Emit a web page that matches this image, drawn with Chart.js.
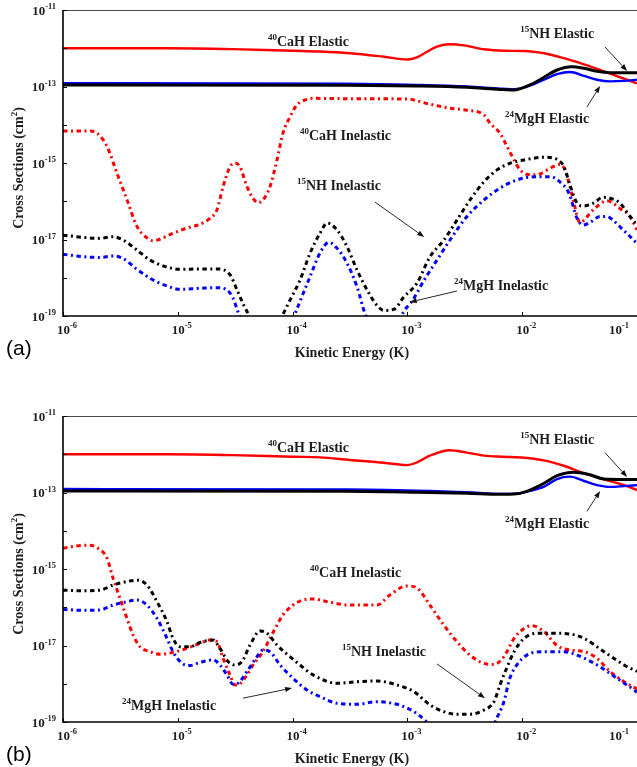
<!DOCTYPE html>
<html><head><meta charset="utf-8">
<script src="https://cdn.jsdelivr.net/npm/chart.js@4.4.1/dist/chart.umd.min.js"></script>
<style>
html,body{margin:0;padding:0;background:#fff;width:637px;height:767px;overflow:hidden;}
.panel{position:absolute;left:0;width:637px;}
</style></head><body>
<div class="panel" style="top:0;height:385px"><canvas id="ca" width="637" height="385"></canvas></div>
<div class="panel" style="top:406px;height:361px"><canvas id="cb" width="637" height="361"></canvas></div>
<script>
// ---------- tick labels (decade exponents) ----------
const xTickExp = [-6, -5, -4, -3, -2, -1];
const yTickExp = [-19, -18, -17, -16, -15, -14, -13, -12, -11];
const yLabelExp = [-11, -13, -15, -17, -19];

// ---------- panel (a) ----------
const a_caEl_E = [1e-6, 8e-6, 3e-5, 1e-4, 1.73e-4, 3.16e-4, 6.25e-4, 9.9e-4, 1.21e-3, 1.48e-3, 1.81e-3, 2.35e-3, 3.11e-3, 4.65e-3, 6.93e-3, 1.04e-2, 1.55e-2, 2.31e-2, 3.45e-2, 5.16e-2, 7.71e-2, 0.1];
const a_caEl_S = [1.0e-12, 1.0e-12, 9.5e-13, 8.6e-13, 8.2e-13, 7.4e-13, 6.0e-13, 5.1e-13, 5.8e-13, 8.1e-13, 1.1e-12, 1.27e-12, 1.19e-12, 9.4e-13, 8.6e-13, 8.5e-13, 7.4e-13, 5.5e-13, 3.8e-13, 2.5e-13, 1.6e-13, 1.2e-13];

const a_nhEl_E = [1e-6, 3e-4, 1.2e-3, 3.3e-3, 6.4e-3, 8.5e-3, 1.17e-2, 1.55e-2, 2.01e-2, 2.7e-2, 3.45e-2, 4.49e-2, 5.82e-2, 0.1];
const a_nhEl_S = [1.1e-13, 1.08e-13, 1.03e-13, 9.5e-14, 8.4e-14, 8.1e-14, 1.1e-13, 1.74e-13, 2.7e-13, 3.3e-13, 3.0e-13, 2.5e-13, 2.3e-13, 2.3e-13];

const a_mgEl_E = [1e-6, 3e-4, 1.2e-3, 3.3e-3, 6.4e-3, 8.5e-3, 1.17e-2, 1.55e-2, 2.01e-2, 2.61e-2, 3.45e-2, 4.49e-2, 5.82e-2, 7.7e-2, 0.1];
const a_mgEl_S = [1.22e-13, 1.18e-13, 1.1e-13, 1.0e-13, 8.8e-14, 8.5e-14, 1.05e-13, 1.5e-13, 2.1e-13, 2.4e-13, 1.9e-13, 1.5e-13, 1.36e-13, 1.4e-13, 1.5e-13];

const a_caIn_E = [1e-6, 1.72e-6, 1.98e-6, 2.42e-6, 2.95e-6, 3.61e-6, 4.41e-6, 5.39e-6, 6.08e-6, 9.08e-6, 1.2e-5, 1.56e-5, 1.91e-5, 2.19e-5, 2.48e-5, 2.85e-5, 3.15e-5, 3.48e-5, 4.01e-5, 4.52e-5, 5.0e-5, 5.52e-5, 6.35e-5, 7.31e-5, 8.24e-5, 9.49e-5, 1.09e-4, 1.33e-4, 1.51e-4, 3.16e-4, 9.9e-4, 1.48e-3, 2.35e-3, 3.3e-3, 4.65e-3, 5.25e-3, 6.4e-3, 7.38e-3, 8.5e-3, 9.57e-3, 1.17e-2, 1.43e-2, 1.75e-2, 2.13e-2, 2.36e-2, 2.61e-2, 2.85e-2, 3.18e-2, 4.14e-2, 5.48e-2, 7.1e-2, 8.69e-2, 0.1];
const a_caIn_S = [6.9e-15, 6.9e-15, 6.0e-15, 2.7e-15, 5.4e-16, 1.1e-16, 2.2e-17, 1.1e-17, 9.3e-18, 1.46e-17, 2.0e-17, 2.5e-17, 3.6e-17, 5.9e-17, 2.4e-16, 8.0e-16, 1.0e-15, 8.0e-16, 2.4e-16, 1.2e-16, 9.2e-17, 1.08e-16, 2.4e-16, 1.2e-15, 6.0e-15, 1.6e-14, 3.3e-14, 4.6e-14, 4.9e-14, 4.8e-14, 4.7e-14, 3.6e-14, 2.7e-14, 2.4e-14, 1.8e-14, 1.09e-14, 6.0e-15, 2.7e-15, 1.2e-15, 6.6e-16, 4.9e-16, 5.2e-16, 7.3e-16, 9.2e-16, 6.6e-16, 2.4e-16, 8e-17, 2.8e-17, 5.9e-17, 1.03e-16, 6.5e-17, 4.0e-17, 1.8e-17];

const a_nhIn_E = [1e-6, 1.49e-6, 2.1e-6, 2.73e-6, 3.33e-6, 4.41e-6, 5.73e-6, 8.05e-6, 1.04e-5, 1.56e-5, 2.19e-5, 2.85e-5, 3.28e-5, 3.7e-5, 4.17e-5, 5.4e-5, 6.35e-5, 8.09e-5, 9.49e-5, 1.16e-4, 1.42e-4, 1.73e-4, 2.0e-4, 2.44e-4, 2.98e-4, 3.64e-4, 4.45e-4, 5.43e-4, 6.25e-4, 7.64e-4, 9.34e-4, 1.21e-3, 1.57e-3, 2.08e-3, 2.7e-3, 3.51e-3, 4.65e-3, 6.03e-3, 7.8e-3, 1.04e-2, 1.55e-2, 1.89e-2, 2.31e-2, 2.61e-2, 3.0e-2, 3.39e-2, 4.14e-2, 5.06e-2, 5.82e-2, 7.1e-2, 8.69e-2, 0.1];
const a_nhIn_S = [1.3e-17, 1.14e-17, 1.07e-17, 1.18e-17, 9.7e-18, 5.3e-18, 2.9e-18, 1.9e-18, 1.66e-18, 1.7e-18, 1.7e-18, 1.2e-18, 4.8e-19, 2.1e-19, 1.0e-19, 1e-20, 3e-20, 1.0e-19, 2.6e-19, 8.7e-19, 4.4e-18, 1.45e-17, 2.7e-17, 1.77e-17, 6.5e-18, 1.59e-18, 4.8e-19, 1.9e-19, 1.4e-19, 1.5e-19, 3.2e-19, 7.2e-19, 3.5e-18, 9.7e-18, 3.2e-17, 1.08e-16, 3.24e-16, 6.6e-16, 9.8e-16, 1.2e-15, 1.41e-15, 1.33e-15, 8.0e-16, 2.6e-16, 9e-17, 7.5e-17, 8.8e-17, 1.27e-16, 1.2e-16, 9e-17, 4e-17, 2.4e-17];

const a_mgIn_E = [1e-6, 1.49e-6, 2.1e-6, 2.73e-6, 3.33e-6, 4.41e-6, 5.73e-6, 8.05e-6, 1.04e-5, 1.56e-5, 2.19e-5, 2.68e-5, 3.03e-5, 3.34e-5, 3.55e-5, 4.5e-5, 7e-5, 1.01e-4, 1.16e-4, 1.42e-4, 1.73e-4, 2.07e-4, 2.44e-4, 2.98e-4, 3.64e-4, 4.27e-4, 4.5e-4, 6e-4, 8.63e-4, 1.14e-3, 1.4e-3, 1.81e-3, 2.35e-3, 3.3e-3, 4.65e-3, 6.4e-3, 8.98e-3, 1.35e-2, 1.75e-2, 2.13e-2, 2.56e-2, 3.0e-2, 3.39e-2, 3.9e-2, 4.76e-2, 5.48e-2, 6.18e-2, 7.55e-2, 8.69e-2, 0.1];
const a_mgIn_S = [4.1e-18, 3.55e-18, 3.4e-18, 3.7e-18, 3.2e-18, 1.66e-18, 9.7e-19, 6.1e-19, 5.0e-19, 5.3e-19, 5.5e-19, 4.8e-19, 2.9e-19, 1.3e-19, 8e-20, 1e-21, 1e-21, 8e-20, 2.4e-19, 1.07e-18, 4.4e-18, 8.4e-18, 5.9e-18, 2.4e-18, 5.8e-19, 1.15e-19, 8e-20, 1e-21, 8e-20, 2.9e-19, 8.7e-19, 2.9e-18, 9.7e-18, 4.0e-17, 1.08e-16, 2.2e-16, 3.6e-16, 4.4e-16, 4.4e-16, 3.2e-16, 1.6e-16, 3.6e-17, 2.4e-17, 2.8e-17, 4.0e-17, 4.0e-17, 3.2e-17, 1.8e-17, 1.2e-17, 7.9e-18];

// ---------- panel (b) ----------
const b_caEl_E = [1e-6, 8e-6, 3e-5, 1e-4, 1.73e-4, 3.16e-4, 6.25e-4, 9.9e-4, 1.21e-3, 1.57e-3, 2.35e-3, 3.3e-3, 4.65e-3, 6.93e-3, 1.04e-2, 1.55e-2, 2.31e-2, 3.45e-2, 5.16e-2, 7.71e-2, 0.1];
const b_caEl_S = [1.0e-12, 1.0e-12, 9.5e-13, 8.6e-13, 8.3e-13, 7.1e-13, 6.0e-13, 5.2e-13, 6.1e-13, 9.2e-13, 1.27e-12, 1.1e-12, 9.2e-13, 8.6e-13, 8.1e-13, 6.9e-13, 5.0e-13, 3.2e-13, 2.2e-13, 1.56e-13, 1.16e-13];

const b_nhEl_E = [1e-6, 3e-4, 1.2e-3, 3.3e-3, 6.4e-3, 8.98e-3, 1.17e-2, 1.55e-2, 2.01e-2, 2.8e-2, 3.9e-2, 5.16e-2, 7e-2, 0.1];
const b_nhEl_S = [1.1e-13, 1.08e-13, 1.02e-13, 9.6e-14, 9.0e-14, 9.3e-14, 1.16e-13, 1.74e-13, 2.75e-13, 3.4e-13, 2.9e-13, 2.25e-13, 2.2e-13, 2.2e-13];

const b_mgEl_E = [1e-6, 3e-4, 1.2e-3, 3.3e-3, 6.4e-3, 8.98e-3, 1.17e-2, 1.55e-2, 2.01e-2, 2.61e-2, 3.45e-2, 4.49e-2, 5.82e-2, 7.71e-2, 0.1];
const b_mgEl_S = [1.23e-13, 1.2e-13, 1.12e-13, 1.02e-13, 9.2e-14, 9.3e-14, 1.1e-13, 1.42e-13, 2.25e-13, 2.6e-13, 2.0e-13, 1.56e-13, 1.4e-13, 1.47e-13, 1.56e-13];

const b_caIn_E = [1e-6, 1.32e-6, 1.65e-6, 1.98e-6, 2.42e-6, 2.73e-6, 3.14e-6, 3.61e-6, 4.07e-6, 4.69e-6, 5.73e-6, 7.0e-6, 9.08e-6, 1.2e-5, 1.56e-5, 1.91e-5, 2.19e-5, 2.48e-5, 2.85e-5, 3.15e-5, 3.48e-5, 4.01e-5, 4.52e-5, 5.52e-5, 6.35e-5, 7.31e-5, 8.24e-5, 1.01e-4, 1.23e-4, 1.51e-4, 2.0e-4, 3.16e-4, 5.43e-4, 7.05e-4, 9.9e-4, 1.21e-3, 1.57e-3, 2.08e-3, 2.7e-3, 3.51e-3, 4.65e-3, 5.68e-3, 6.93e-3, 8.5e-3, 1.04e-2, 1.22e-2, 1.55e-2, 2.01e-2, 2.61e-2, 3.45e-2, 4.49e-2, 5.82e-2, 7.71e-2, 0.1];
const b_caIn_S = [3.5e-15, 4.0e-15, 4.2e-15, 3.6e-15, 1.9e-15, 5.7e-16, 1.7e-16, 5.1e-17, 1.9e-17, 9.3e-18, 6.9e-18, 5.9e-18, 6.6e-18, 8.4e-18, 1.14e-17, 1.39e-17, 1.26e-17, 4.6e-18, 1.7e-18, 9.3e-19, 1.0e-18, 1.7e-18, 3.1e-18, 6.9e-18, 1.54e-17, 3.4e-17, 6.3e-17, 1.14e-16, 1.55e-16, 1.64e-16, 1.4e-16, 1.14e-16, 1.14e-16, 2.1e-16, 3.6e-16, 3.2e-16, 1.14e-16, 3.4e-17, 1.26e-17, 5.6e-18, 3.4e-18, 3.2e-18, 5.1e-18, 1.54e-17, 2.8e-17, 3.3e-17, 2.3e-17, 1.0e-17, 7.6e-18, 6.9e-18, 4.6e-18, 2.1e-18, 1.13e-18, 7.3e-19];

const b_nhIn_E = [1e-6, 1.49e-6, 2.1e-6, 2.73e-6, 3.61e-6, 4.41e-6, 5.39e-6, 6.59e-6, 8.05e-6, 9.08e-6, 1.04e-5, 1.28e-5, 1.56e-5, 2.03e-5, 2.33e-5, 2.74e-5, 3.15e-5, 3.62e-5, 4.26e-5, 5.2e-5, 5.98e-5, 7.31e-5, 9.49e-5, 1.16e-4, 1.51e-4, 2.44e-4, 3.64e-4, 5.43e-4, 8.11e-4, 1.14e-3, 1.57e-3, 2.08e-3, 2.7e-3, 3.51e-3, 4.65e-3, 5.68e-3, 6.4e-3, 7.38e-3, 8.5e-3, 1.04e-2, 1.35e-2, 1.75e-2, 2.61e-2, 3.45e-2, 5.16e-2, 7.71e-2, 0.1];
const b_nhIn_S = [2.8e-16, 2.7e-16, 2.8e-16, 3.8e-16, 4.7e-16, 5.1e-16, 3.8e-16, 1.4e-16, 4.2e-17, 1.54e-17, 9.3e-18, 9.3e-18, 1.2e-17, 1.39e-17, 8.4e-18, 3.8e-18, 3.1e-18, 3.8e-18, 1.03e-17, 2.4e-17, 2.1e-17, 1.03e-17, 5.1e-18, 3.1e-18, 1.7e-18, 1.03e-18, 1.13e-18, 1.18e-18, 9.3e-19, 6.2e-19, 2.8e-19, 1.86e-19, 1.6e-19, 1.6e-19, 2.06e-19, 3.4e-19, 9.3e-19, 2.7e-18, 6.9e-18, 1.54e-17, 2.1e-17, 2.1e-17, 2.0e-17, 1.54e-17, 6.9e-18, 3.1e-18, 2.1e-18];

const b_mgIn_E = [1e-6, 1.49e-6, 2.1e-6, 2.73e-6, 3.61e-6, 4.41e-6, 5.39e-6, 6.59e-6, 8.05e-6, 9.08e-6, 1.09e-5, 1.28e-5, 1.56e-5, 2.03e-5, 2.33e-5, 2.68e-5, 3.03e-5, 3.34e-5, 4.01e-5, 4.9e-5, 5.52e-5, 6.35e-5, 7.77e-5, 1.01e-4, 1.33e-4, 1.73e-4, 2.44e-4, 3.64e-4, 5.43e-4, 8.11e-4, 1.14e-3, 1.48e-3, 2.2e-3, 3.5e-3, 5.0e-3, 5.8e-3, 6.93e-3, 7.8e-3, 8.98e-3, 1.1e-2, 1.55e-2, 2.31e-2, 3.0e-2, 4.49e-2, 6.7e-2, 9.42e-2, 0.1];
const b_mgIn_S = [8.8e-17, 8.3e-17, 8.5e-17, 1.14e-16, 1.4e-16, 1.55e-16, 1.14e-16, 5.1e-17, 1.54e-17, 6.9e-18, 3.4e-18, 3.0e-18, 3.6e-18, 4.2e-18, 3.1e-18, 1.7e-18, 9.7e-19, 1.03e-18, 2.1e-18, 5.1e-18, 7.6e-18, 6.9e-18, 3.1e-18, 1.39e-18, 6.9e-19, 4.6e-19, 3.1e-19, 2.9e-19, 3.4e-19, 2.9e-19, 1.86e-19, 1.0e-19, 3e-20, 1e-20, 3e-20, 1.0e-19, 3.4e-19, 1.39e-18, 3.1e-18, 5.6e-18, 6.9e-18, 6.9e-18, 5.6e-18, 3.1e-18, 1.39e-18, 6.9e-19, 6e-19];

// ---------- annotation texts (anchored in data coordinates) ----------
const annA = [
  {sup:'40', txt:'CaH Elastic',   E:6.1e-5,  S:1.55e-12},
  {sup:'15', txt:'NH Elastic',    E:9.6e-3,  S:2.5e-12},
  {sup:'24', txt:'MgH Elastic',   E:7.1e-3,  S:1.5e-14},
  {sup:'40', txt:'CaH Inelastic', E:1.16e-4, S:5.4e-15},
  {sup:'15', txt:'NH Inelastic',  E:1.09e-4, S:2.66e-16},
  {sup:'24', txt:'MgH Inelastic', E:2.55e-3, S:6.5e-19}
];
const arrowsA = [
  {from:[5.26e-2, 1.08e-12], to:[8.2e-2, 2.54e-13]},
  {from:[3.66e-2, 2.9e-14],  to:[4.77e-2, 1.03e-13]},
  {from:[5.22e-4, 9.5e-17],  to:[1.4e-3, 1.16e-17]},
  {from:[2.7e-3, 4.5e-19],   to:[1.05e-3, 2.3e-19]}
];
const annB = [
  {sup:'40', txt:'CaH Elastic',   E:6.1e-5,  S:1.55e-12},
  {sup:'15', txt:'NH Elastic',    E:9.6e-3,  S:2.5e-12},
  {sup:'24', txt:'MgH Elastic',   E:7.1e-3,  S:1.55e-14},
  {sup:'40', txt:'CaH Inelastic', E:1.42e-4, S:8.4e-16},
  {sup:'15', txt:'NH Inelastic',  E:2.69e-4, S:7.2e-18},
  {sup:'24', txt:'MgH Inelastic', E:3.27e-6, S:2.8e-19}
];
const arrowsB = [
  {from:[5.26e-2, 1.1e-12],  to:[8.2e-2, 2.54e-13]},
  {from:[3.66e-2, 3.2e-14],  to:[4.77e-2, 1.1e-13]},
  {from:[1.81e-3, 3.3e-18],  to:[4.74e-3, 4.2e-19]},
  {from:[3.7e-5, 4.2e-19],   to:[9.9e-5, 7.7e-19]}
];

const SERIF = '"Liberation Serif","Times New Roman",Times,serif';
const RED = '#ff0000', BLUE = '#0000ff', BLACK = '#000000';
const DASH = [4.5, 3.5, 2, 3.5];

function pts(E, S) { return E.map((e, i) => ({x: e, y: S[i]})); }

function drawRich(ctx, parts, x, yBase, align, size, supSize, rise) {
  let w = 0;
  const ws = parts.map(p => {
    ctx.font = 'bold ' + (p[1] ? supSize : size) + 'px ' + SERIF;
    const m = ctx.measureText(p[0]).width; w += m; return m;
  });
  let cx = align === 'right' ? x - w : (align === 'center' ? x - w / 2 : x);
  ctx.textAlign = 'left'; ctx.textBaseline = 'alphabetic';
  parts.forEach((p, i) => {
    ctx.font = 'bold ' + (p[1] ? supSize : size) + 'px ' + SERIF;
    ctx.fillText(p[0], cx, p[1] ? yBase - rise : yBase);
    cx += ws[i];
  });
  return w;
}
function measureRich(ctx, parts, size, supSize) {
  let w = 0;
  parts.forEach(p => { ctx.font = 'bold ' + (p[1] ? supSize : size) + 'px ' + SERIF; w += ctx.measureText(p[0]).width; });
  return w;
}

function makeDeco(letter, ann, arrows) {
  return {
    id: 'deco',
    afterDatasetsDraw(chart) {
      const ctx = chart.ctx, xs = chart.scales.x, ys = chart.scales.y, a = chart.chartArea;
      ctx.save();
      // frame
      ctx.strokeStyle = '#4a4a4a'; ctx.lineWidth = 1.2;
      ctx.beginPath(); ctx.moveTo(a.left, a.top + 0.5); ctx.lineTo(a.right, a.top + 0.5); ctx.stroke();
      ctx.strokeStyle = '#000'; ctx.lineWidth = 1.6;
      ctx.beginPath(); ctx.moveTo(a.left, a.top); ctx.lineTo(a.left, a.bottom); ctx.lineTo(a.right, a.bottom); ctx.stroke();
      // tick marks
      ctx.lineWidth = 1;
      xTickExp.forEach(k => {
        const px = Math.round(xs.getPixelForValue(Math.pow(10, k))) + 0.5;
        ctx.beginPath(); ctx.moveTo(px, a.bottom); ctx.lineTo(px, a.bottom - 4); ctx.stroke();
      });
      yTickExp.forEach(k => {
        const py = Math.round(ys.getPixelForValue(Math.pow(10, k))) + 0.5;
        ctx.beginPath(); ctx.moveTo(a.left, py); ctx.lineTo(a.left + 4, py); ctx.stroke();
      });
      ctx.fillStyle = '#1e1e1e';
      // x tick labels
      xTickExp.forEach(k => {
        const parts = [['10', 0], [String(k), 1]];
        const w = measureRich(ctx, parts, 13, 8.5);
        let cx = xs.getPixelForValue(Math.pow(10, k)) + 4;
        if (cx + w / 2 > chart.width - 8) cx = chart.width - 8 - w / 2;
        drawRich(ctx, parts, cx, a.bottom + 17.5, 'center', 13, 8.5, 5.5);
      });
      // y tick labels
      yLabelExp.forEach(k => {
        const py = ys.getPixelForValue(Math.pow(10, k));
        drawRich(ctx, [['10', 0], [String(k), 1]], a.left - 7, py + 4.5, 'right', 13, 8.5, 5.5);
      });
      // axis titles
      drawRich(ctx, [['Kinetic Energy (K)', 0]], (a.left + a.right) / 2 + 2, a.bottom + 41, 'center', 14, 9, 6);
      ctx.save();
      ctx.translate(18, (a.top + a.bottom) / 2 + 5);
      ctx.rotate(-Math.PI / 2);
      drawRich(ctx, [['Cross Sections (cm', 0], ['2', 1], [')', 0]], 0, 5, 'center', 14, 9, 6);
      ctx.restore();
      // annotations
      ann.forEach(t => {
        const px = xs.getPixelForValue(t.E), py = ys.getPixelForValue(t.S);
        drawRich(ctx, [[t.sup, 1], [t.txt, 0]], px, py + 5, 'left', 14, 9, 6);
      });
      // arrows
      ctx.strokeStyle = '#111'; ctx.fillStyle = '#111'; ctx.lineWidth = 0.9;
      arrows.forEach(ar => {
        const x1 = xs.getPixelForValue(ar.from[0]), y1 = ys.getPixelForValue(ar.from[1]);
        const x2 = xs.getPixelForValue(ar.to[0]), y2 = ys.getPixelForValue(ar.to[1]);
        const ang = Math.atan2(y2 - y1, x2 - x1), L = 7, hw = 2.6;
        const bx = x2 - L * Math.cos(ang), by = y2 - L * Math.sin(ang);
        ctx.beginPath(); ctx.moveTo(x1, y1); ctx.lineTo(bx, by); ctx.stroke();
        ctx.beginPath();
        ctx.moveTo(x2, y2);
        ctx.lineTo(bx + hw * Math.sin(ang), by - hw * Math.cos(ang));
        ctx.lineTo(bx - hw * Math.sin(ang), by + hw * Math.cos(ang));
        ctx.closePath(); ctx.fill();
      });
      // panel letter
      ctx.fillStyle = '#000';
      ctx.font = '21px "Liberation Sans",Arial,sans-serif';
      ctx.textAlign = 'left'; ctx.textBaseline = 'alphabetic';
      ctx.fillText(letter, 6, a.bottom + 39);
      ctx.restore();
    }
  };
}

function makeChart(id, H, letter, S, ann, arrows) {
  const clip = {left: 2, right: 2, top: 2, bottom: 0};
  const ds = [
    {data: pts(S.nhEl[0], S.nhEl[1]), borderColor: BLACK, borderWidth: 3, clip},
    {data: pts(S.mgEl[0], S.mgEl[1]), borderColor: BLUE, borderWidth: 2.4, clip},
    {data: pts(S.caEl[0], S.caEl[1]), borderColor: RED, borderWidth: 2.4, clip},
    {data: pts(S.nhIn[0], S.nhIn[1]), borderColor: BLACK, borderWidth: 3, borderDash: DASH, clip},
    {data: pts(S.mgIn[0], S.mgIn[1]), borderColor: BLUE, borderWidth: 3, borderDash: DASH, clip},
    {data: pts(S.caIn[0], S.caIn[1]), borderColor: RED, borderWidth: 3, borderDash: DASH, clip}
  ];
  return new Chart(document.getElementById(id), {
    type: 'line',
    data: {datasets: ds},
    options: {
      responsive: false, animation: false, devicePixelRatio: 1,
      layout: {padding: {top: 10, left: 0, right: 0, bottom: 0}},
      plugins: {legend: {display: false}, tooltip: {enabled: false}},
      elements: {point: {radius: 0}, line: {cubicInterpolationMode: 'monotone', fill: false}},
      scales: {
        x: {type: 'logarithmic', min: 1e-6, max: 0.1,
            ticks: {display: false}, grid: {display: false}, border: {display: false},
            afterFit: s => { s.height = H - 316; }},
        y: {type: 'logarithmic', min: 1e-19, max: 1e-11,
            ticks: {display: false}, grid: {display: false}, border: {display: false},
            afterFit: s => { s.width = 63; }}
      }
    },
    plugins: [makeDeco(letter, ann, arrows)]
  });
}

makeChart('ca', 385, '(a)', {
  caEl: [a_caEl_E, a_caEl_S], nhEl: [a_nhEl_E, a_nhEl_S], mgEl: [a_mgEl_E, a_mgEl_S],
  caIn: [a_caIn_E, a_caIn_S], nhIn: [a_nhIn_E, a_nhIn_S], mgIn: [a_mgIn_E, a_mgIn_S]
}, annA, arrowsA);
makeChart('cb', 361, '(b)', {
  caEl: [b_caEl_E, b_caEl_S], nhEl: [b_nhEl_E, b_nhEl_S], mgEl: [b_mgEl_E, b_mgEl_S],
  caIn: [b_caIn_E, b_caIn_S], nhIn: [b_nhIn_E, b_nhIn_S], mgIn: [b_mgIn_E, b_mgIn_S]
}, annB, arrowsB);
</script>
</body></html>
